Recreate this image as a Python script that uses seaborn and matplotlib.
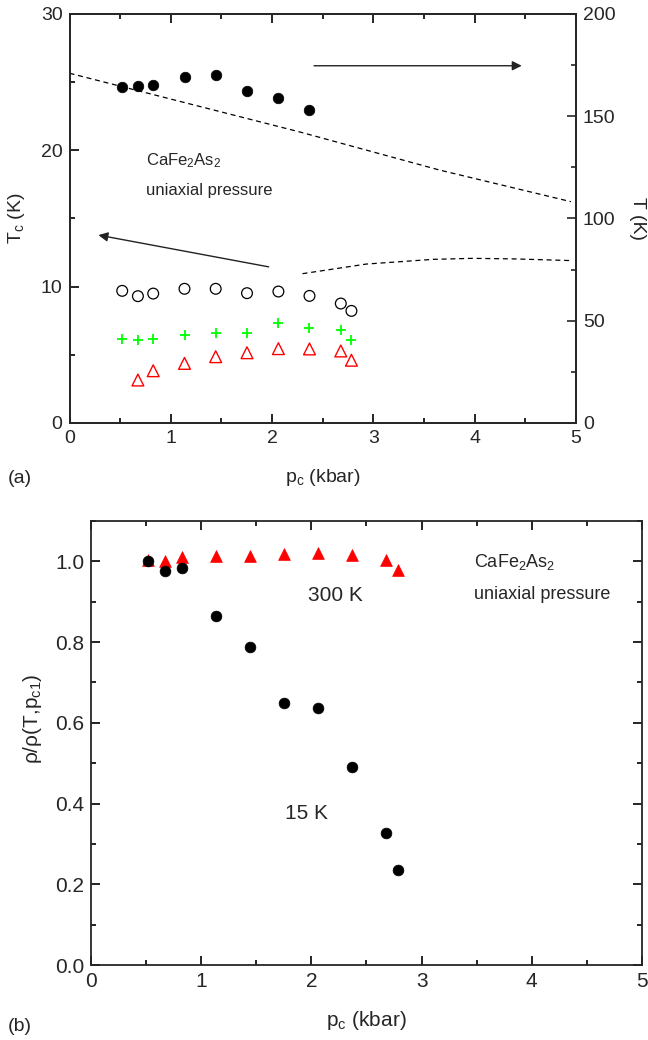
import matplotlib
matplotlib.use("Agg")
import matplotlib.pyplot as plt
import seaborn as sns
import pandas as pd
from matplotlib.ticker import MultipleLocator

# ---------------- data ----------------
p_c = [0.52, 0.675, 0.826, 1.135, 1.443, 1.752, 2.062, 2.369, 2.678, 2.783]

# panel (a)
T_struct = [164.1, 164.9, 165.4, 169.0, 170.1, 162.5, 158.7, 153.2]      # closed circles, right axis
Tc_onset = [9.69, 9.30, 9.49, 9.84, 9.84, 9.52, 9.64, 9.32, 8.76, 8.22]   # open circles
Tc_mid = [6.18, 6.09, 6.18, 6.43, 6.61, 6.61, 7.30, 6.97, 6.80, 6.07]     # green plus
Tc_zero = [3.15, 3.83, 4.37, 4.86, 5.15, 5.45, 5.43, 5.28, 4.60]          # open red triangles (p_c[1:])

line_hi_p = [0.0, 2.28, 3.65, 4.95]
line_hi_T = [171.0, 142.2, 123.7, 108.2]
line_lo_p = [2.30, 2.93, 3.59, 3.98, 4.41, 4.95]
line_lo_T = [73.0, 77.7, 80.0, 80.5, 80.2, 79.4]

# panel (b)
rho_15K = [1.000, 0.976, 0.984, 0.865, 0.788, 0.649, 0.636, 0.491, 0.328, 0.236]
rho_300K = [1.003, 1.002, 1.010, 1.014, 1.013, 1.019, 1.020, 1.015, 1.003, 0.979]

# ---------------- style ----------------
sns.set_style("ticks")
plt.rcParams["font.family"] = ["Liberation Sans", "DejaVu Sans"]
plt.rcParams["mathtext.default"] = "regular"
plt.rcParams["axes.linewidth"] = 1.3

fig = plt.figure(figsize=(6.48, 10.40), dpi=100)

def style_ticks(ax, size, right=True, top=True):
    ax.tick_params(which="both", direction="in", width=1.2, top=top, right=right,
                   labelsize=size, pad=5, color="black")
    ax.tick_params(which="major", length=6.5)
    ax.tick_params(which="minor", length=3.4)

# ================= panel (a) =================
ax = fig.add_axes([0.1073, 0.5933, 0.7816, 0.3933])
ax2 = ax.twinx()

sns.scatterplot(x=p_c, y=Tc_onset, ax=ax, marker="o", s=60, facecolor="none",
                edgecolor="black", linewidth=0.9, color="black")
ax.collections[-1].set_facecolor("none")
sns.scatterplot(x=p_c, y=Tc_mid, ax=ax, marker="+", s=60, color="#00ff00",
                linewidth=1.3)
sns.scatterplot(x=p_c[1:], y=Tc_zero, ax=ax, marker="^", s=72, facecolor="none",
                edgecolor="#ff0000", linewidth=1.0, color="#ff0000")
ax.collections[-1].set_facecolor("none")

sns.scatterplot(x=p_c[:len(T_struct)], y=T_struct, ax=ax2, marker="o", s=58,
                color="black", edgecolor="black", linewidth=0.5)
sns.lineplot(x=line_hi_p, y=line_hi_T, ax=ax2, color="black", linewidth=0.9,
             linestyle=(0, (4, 3)), estimator=None, sort=False)
sns.lineplot(x=line_lo_p, y=line_lo_T, ax=ax2, color="black", linewidth=0.9,
             linestyle=(0, (4, 3)), estimator=None, sort=False)

ax.set_xlim(0, 5)
ax.set_ylim(0, 30)
ax2.set_ylim(0, 200)
ax.xaxis.set_major_locator(MultipleLocator(1))
ax.xaxis.set_minor_locator(MultipleLocator(0.5))
ax.yaxis.set_major_locator(MultipleLocator(10))
ax.yaxis.set_minor_locator(MultipleLocator(5))
ax2.yaxis.set_major_locator(MultipleLocator(50))
ax2.yaxis.set_minor_locator(MultipleLocator(25))
style_ticks(ax, 14, right=False, top=True)
ax2.tick_params(which="both", direction="in", width=1.2, labelsize=14, pad=5)
ax2.tick_params(which="major", length=6.5)
ax2.tick_params(which="minor", length=3.4)

ax.set_xlabel("p$_c$ (kbar)", fontsize=14)
ax.xaxis.set_label_coords(0.5, -0.134)
ax.xaxis.label.set_va("center")
ax.set_ylabel("T$_c$ (K)", fontsize=14)
ax.yaxis.set_label_coords(-0.104, 0.5)
ax.yaxis.label.set_va("center")
ax2.set_ylabel("T (K)", fontsize=14, rotation=270)
ax2.yaxis.set_label_coords(1.122, 0.5)
ax2.yaxis.label.set_va("center")

ax.text(0.753, 18.9, "CaFe$_2$As$_2$", fontsize=12, ha="left", va="baseline")
ax.text(0.753, 16.7, "uniaxial pressure", fontsize=12, ha="left", va="baseline")

ax.annotate("", xy=(4.464, 26.2), xytext=(2.414, 26.2),
            arrowprops=dict(arrowstyle="-|>", color="#222222", lw=1.0,
                            mutation_scale=14, shrinkA=0, shrinkB=0))
ax.annotate("", xy=(0.285, 13.78), xytext=(1.966, 11.45),
            arrowprops=dict(arrowstyle="-|>", color="#222222", lw=1.0,
                            mutation_scale=14, shrinkA=0, shrinkB=0))

# ================= panel (b) =================
bx = fig.add_axes([0.1404, 0.0721, 0.8503, 0.4269])
sns.scatterplot(x=p_c, y=rho_300K, ax=bx, marker="^", s=72, color="#ff0000",
                edgecolor="#ff0000", linewidth=0.5)
sns.scatterplot(x=p_c, y=rho_15K, ax=bx, marker="o", s=60, color="black",
                edgecolor="black", linewidth=0.5)

bx.set_xlim(0, 5)
bx.set_ylim(0, 1.1)
bx.xaxis.set_major_locator(MultipleLocator(1))
bx.xaxis.set_minor_locator(MultipleLocator(0.5))
bx.yaxis.set_major_locator(MultipleLocator(0.2))
bx.yaxis.set_minor_locator(MultipleLocator(0.1))
bx.yaxis.set_major_formatter(matplotlib.ticker.FormatStrFormatter("%.1f"))
style_ticks(bx, 15)
bx.set_xlabel("p$_c$ (kbar)", fontsize=15)
bx.xaxis.set_label_coords(0.5, -0.124)
bx.xaxis.label.set_va("center")
bx.set_ylabel("ρ/ρ(T,p$_{c1}$)", fontsize=15)
bx.yaxis.set_label_coords(-0.107, 0.554)
bx.yaxis.label.set_va("center")

bx.text(3.478, 0.987, "CaFe$_2$As$_2$", fontsize=13, ha="left", va="baseline")
bx.text(3.478, 0.906, "uniaxial pressure", fontsize=13, ha="left", va="baseline")
bx.text(1.971, 0.902, "300 K", fontsize=15, ha="left", va="baseline")
bx.text(1.762, 0.361, "15 K", fontsize=15, ha="left", va="baseline")

fig.text(0.012, 0.540, "(a)", fontsize=14, ha="left", va="center")
fig.text(0.012, 0.0128, "(b)", fontsize=14, ha="left", va="center")

fig.savefig("out.png", dpi=100)
